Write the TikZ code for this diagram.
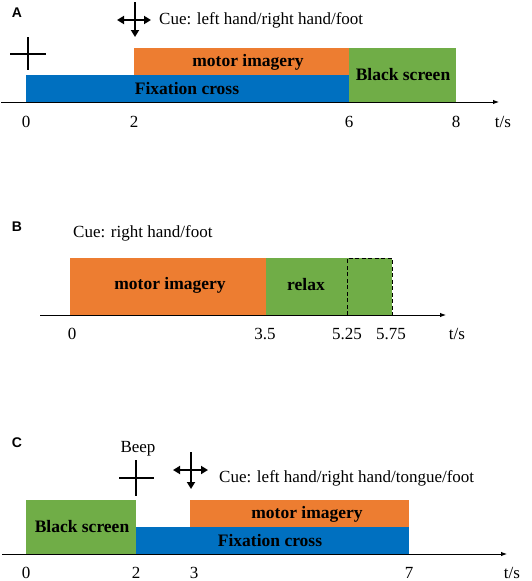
\documentclass[tikz,border=0pt]{standalone}
\usepackage{fontspec}
\setmainfont{Liberation Serif}
\newfontfamily\panelfont{Liberation Sans}
\usepackage{tikz}
\usetikzlibrary{shapes,arrows,arrows.meta}
\usetikzlibrary{positioning}
\definecolor{miorange}{HTML}{ED7D31}
\definecolor{fixblue}{HTML}{0070C0}
\definecolor{bsgreen}{HTML}{70AD47}

\begin{document}
\begin{tikzpicture}[
    x=1pt, y=-1pt,
every node/.style = {inner sep=0pt, font=\fontsize{17}{20}\selectfont},
     boxlabel/.style = {font=\fontsize{17.5}{20}\selectfont\bfseries},
        panel/.style = {font=\fontsize{14}{16}\selectfont\panelfont\bfseries},
     timeaxis/.style = {line width=0.9pt, -{Latex[length=6pt,width=4.5pt]}},
     cuearrow/.style = {line width=2pt, -{Triangle[length=7pt,width=8pt]}},
    cuearrows/.style = {line width=2pt, {Triangle[length=7pt,width=8pt]}-{Triangle[length=7pt,width=8pt]}},
    fixcross/.style = {line width=1.3pt}]
\useasboundingbox (0,0) rectangle (532,581);

% A
\node[panel] (A) at (17,13) {A};
\draw[fixcross] (10,54) -- (46,54) (28,37) -- (28,70);
\draw[cuearrows] (117,20) -- (151,20);
\draw[cuearrow] (135,2) -- (135,37);
\node[anchor=west] (cueA) at (159,20) {Cue: left hand/right hand/foot};

\fill[fixblue] (26,75) rectangle (349,102);
\fill[miorange] (134,48) rectangle (349,75);
\fill[bsgreen] (349,48) rectangle (456,102);
\node[boxlabel] (miA) at (248,62) {motor imagery};
\node[boxlabel] (fixA) at (187,89) {Fixation cross};
\node[boxlabel] (bsA) at (403,75) {Black screen};

\coordinate (a0) at (1,102);
\coordinate (a1) at (499,102);
\draw[timeaxis] (a0) -- (a1);
\foreach \x/\t in {26/0,134/2,349/6,456/8}
    \node (tickA\t) at (\x,122) {\t};
\node (tsA) at (503,122) {t/s};

% B
\node[panel] (B) at (17,227) {B};
\node[anchor=west] (cueB) at (73,233) {Cue: right hand/foot};

\fill[miorange] (70,258) rectangle (266,315);
\fill[bsgreen] (266,258) rectangle (392,315);
\draw[line width=1pt,dash pattern=on 4pt off 2.5pt] (347,315) -- (347,258) -- (392,258) -- (392,315);
\node[boxlabel] (miB) at (170,285) {motor imagery};
\node[boxlabel] (rlB) at (306,285) {relax};

\coordinate (b0) at (40,315);
\coordinate (b1) at (446,315);
\draw[timeaxis] (b0) -- (b1);
\foreach \x/\t [count=\i] in {72/0,265/3.5,347/5.25,391/5.75}
    \node (tickB\i) at (\x,334) {\t};
\node (tsB) at (457,334) {t/s};

% C
\node[panel] (C) at (17,443) {C};
\node (beep) at (138,449) {Beep};
\draw[fixcross] (119,478) -- (154,478) (136,460) -- (136,496);
\draw[cuearrows] (173,470) -- (208,470);
\draw[cuearrow] (191,452) -- (191,489);
\node[anchor=west] (cueC) at (219,478) {Cue: left hand/right hand/tongue/foot};

\fill[bsgreen] (26,500) rectangle (136,554);
\fill[fixblue] (136,527) rectangle (409,554);
\fill[miorange] (190,500) rectangle (409,527);
\node[boxlabel] (bsC) at (82,527) {Black screen};
\node[boxlabel] (miC) at (307,514) {motor imagery};
\node[boxlabel] (fixC) at (270,541) {Fixation cross};

\coordinate (c0) at (2,554);
\coordinate (c1) at (507,554);
\draw[timeaxis] (c0) -- (c1);
\foreach \x/\t in {26/0,136/2,194/3,409/7}
    \node (tickC\t) at (\x,573) {\t};
\node (tsC) at (512,573) {t/s};
\end{tikzpicture}
\end{document}
